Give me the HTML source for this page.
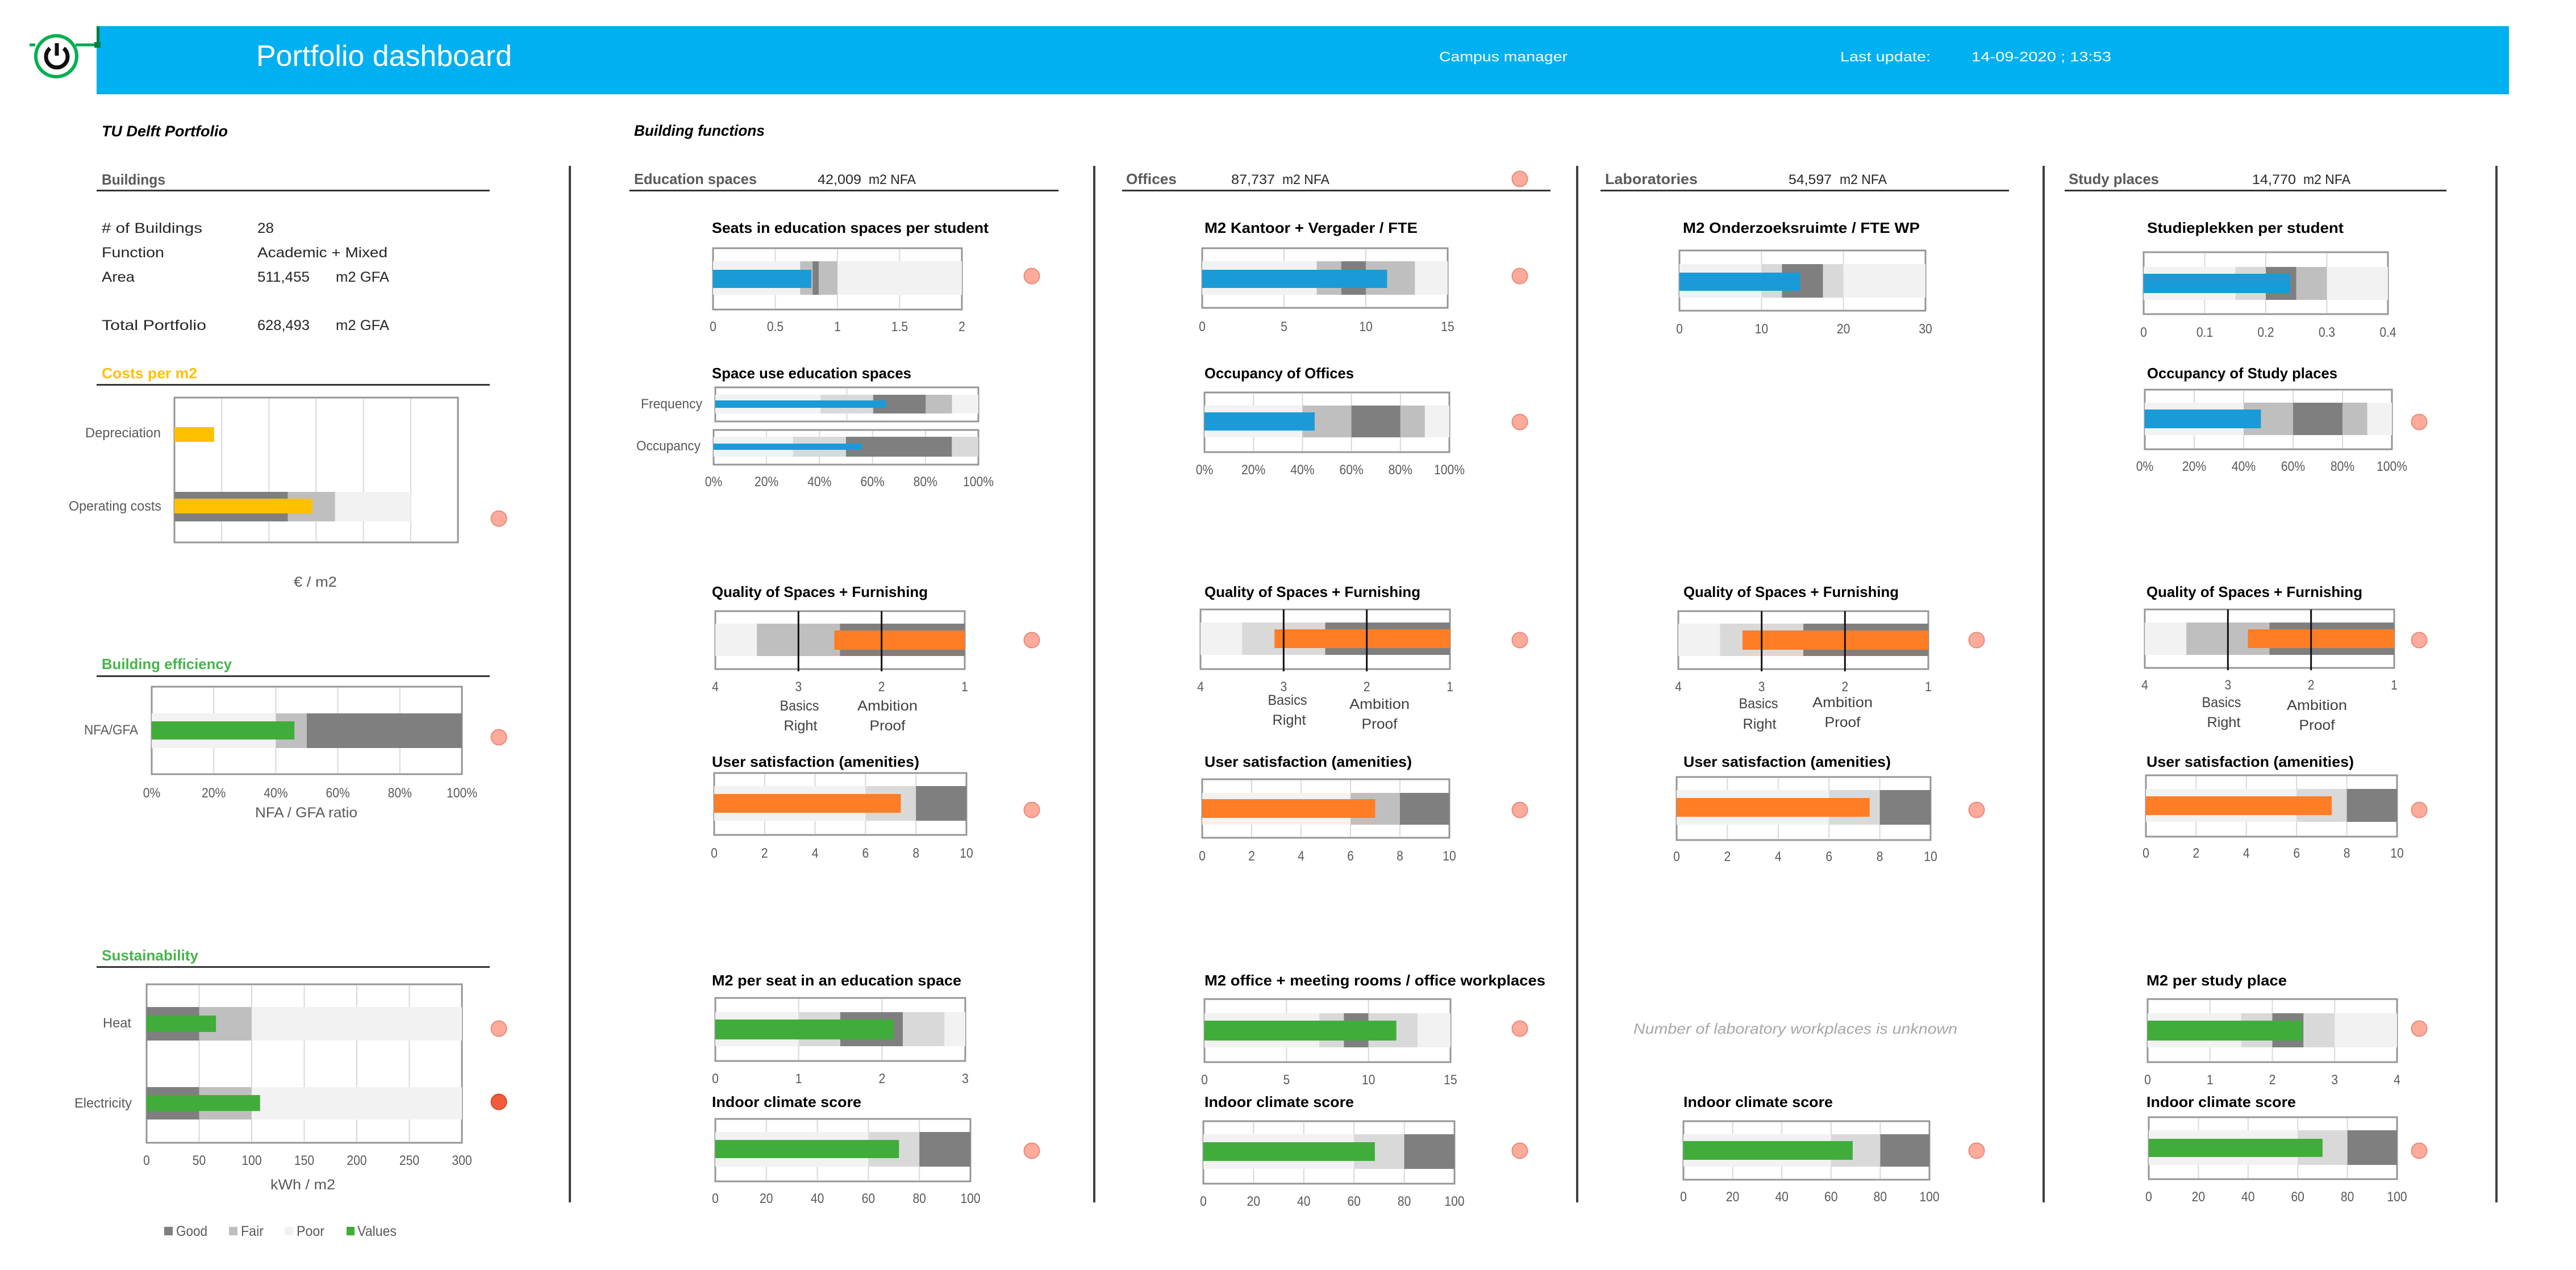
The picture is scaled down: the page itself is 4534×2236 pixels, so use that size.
<!DOCTYPE html>
<html lang="en">
<head>
<meta charset="utf-8">
<title>Portfolio dashboard</title>
<style>
html,body{margin:0;padding:0;background:#fff}
svg{display:block}
text{font-family:"Liberation Sans",sans-serif;fill:#262626}
.hdr{fill:#fff;font-size:24px}
.sec{font-size:26px;font-weight:bold;fill:#595959}
.cols{font-size:26px;font-weight:bold;fill:#595959}
.it{font-size:27px;font-weight:bold;font-style:italic;fill:#000}
.row{font-size:25px;fill:#262626}
.num{font-size:24px;fill:#262626}
.ct{font-size:26px;font-weight:bold;fill:#000}
.axt{font-size:25px;fill:#595959}
.mark{font-size:25px;fill:#404040}
</style>
</head>
<body>
<svg id="dash" xmlns="http://www.w3.org/2000/svg" width="4534" height="2236" viewBox="0 0 4534 2236">
<rect x="0" y="0" width="4534" height="2236" fill="#fff"/>

<!-- header -->
<rect x="170" y="46" width="4246" height="120" fill="#00b0f0"/>
<text class="hdr" x="451" y="116" style="font-size:52px" textLength="450" lengthAdjust="spacingAndGlyphs">Portfolio dashboard</text>
<text class="hdr" x="2533" y="108" textLength="226" lengthAdjust="spacingAndGlyphs">Campus manager</text>
<text class="hdr" x="3239" y="108" textLength="159" lengthAdjust="spacingAndGlyphs">Last update:</text>
<text class="hdr" x="3470" y="108" textLength="246" lengthAdjust="spacingAndGlyphs">14-09-2020 ; 13:53</text>

<!-- power button -->
<g>
  <path d="M52 79H62M133 79H170" stroke="#00a651" stroke-width="5" fill="none"/>
  <path d="M172.500 46V76" stroke="#00803c" stroke-width="5"/>
  <rect x="166" y="74" width="11" height="10" fill="#00803c"/>
  <circle cx="99" cy="99" r="36" fill="#fff" stroke="#00b050" stroke-width="6"/>
  <path d="M88 85A19 19 0 1 0 112 85" fill="none" stroke="#111" stroke-width="7"/>
  <path d="M100 76V98" stroke="#111" stroke-width="7"/>
</g>

<!-- left panel -->
<text class="it" x="179" y="240" textLength="222" lengthAdjust="spacingAndGlyphs">TU Delft Portfolio</text>
<text class="sec" x="179" y="325" textLength="112" lengthAdjust="spacingAndGlyphs">Buildings</text>
<rect x="170" y="334" width="692" height="3" fill="#333"/>
<text class="row" x="179" y="410" textLength="177" lengthAdjust="spacingAndGlyphs"># of Buildings</text>
<text class="row" x="453" y="410" textLength="29" lengthAdjust="spacingAndGlyphs">28</text>
<text class="row" x="179" y="453" textLength="110" lengthAdjust="spacingAndGlyphs">Function</text>
<text class="row" x="453" y="453" textLength="229" lengthAdjust="spacingAndGlyphs">Academic + Mixed</text>
<text class="row" x="179" y="496" textLength="58" lengthAdjust="spacingAndGlyphs">Area</text>
<text class="row" x="453" y="496" textLength="92" lengthAdjust="spacingAndGlyphs">511,455</text>
<text class="row" x="591" y="496" textLength="94" lengthAdjust="spacingAndGlyphs">m2 GFA</text>
<text class="row" x="179" y="581" textLength="184" lengthAdjust="spacingAndGlyphs">Total Portfolio</text>
<text class="row" x="453" y="581" textLength="92" lengthAdjust="spacingAndGlyphs">628,493</text>
<text class="row" x="591" y="581" textLength="94" lengthAdjust="spacingAndGlyphs">m2 GFA</text>

<text class="sec" x="179" y="666" style="fill:#ffc000" textLength="168" lengthAdjust="spacingAndGlyphs">Costs per m2</text>
<rect x="170" y="676" width="692" height="3" fill="#333"/>
<text class="axt" x="555" y="1033" text-anchor="middle" textLength="76" lengthAdjust="spacingAndGlyphs">€ / m2</text>

<text class="sec" x="179" y="1178" style="fill:#45b549" textLength="229" lengthAdjust="spacingAndGlyphs">Building efficiency</text>
<rect x="170" y="1189" width="692" height="3" fill="#333"/>
<text class="axt" x="539" y="1439" text-anchor="middle" textLength="180" lengthAdjust="spacingAndGlyphs">NFA / GFA ratio</text>

<text class="sec" x="179" y="1691" style="fill:#45b549" textLength="170" lengthAdjust="spacingAndGlyphs">Sustainability</text>
<rect x="170" y="1701" width="692" height="3" fill="#333"/>
<text class="axt" x="533" y="2094" text-anchor="middle" textLength="114" lengthAdjust="spacingAndGlyphs">kWh / m2</text>

<!-- legend -->
<g>
  <rect x="289" y="2160" width="15" height="15" fill="#7f7f7f"/>
  <text class="axt" x="310" y="2176" textLength="55" lengthAdjust="spacingAndGlyphs">Good</text>
  <rect x="403" y="2160" width="15" height="15" fill="#bfbfbf"/>
  <text class="axt" x="424" y="2176" textLength="40" lengthAdjust="spacingAndGlyphs">Fair</text>
  <rect x="501" y="2160" width="15" height="15" fill="#f2f2f2"/>
  <text class="axt" x="522" y="2176" textLength="49" lengthAdjust="spacingAndGlyphs">Poor</text>
  <rect x="610" y="2160" width="14" height="15" fill="#40ad3a"/>
  <text class="axt" x="629" y="2176" textLength="69" lengthAdjust="spacingAndGlyphs">Values</text>
</g>

<!-- column dividers -->
<g fill="#404040">
  <rect x="1001" y="292" width="4" height="1825"/>
  <rect x="1924" y="292" width="4" height="1825"/>
  <rect x="2774" y="292" width="4" height="1825"/>
  <rect x="3595" y="292" width="4" height="1825"/>
  <rect x="4392" y="292" width="4" height="1825"/>
</g>

<!-- building functions -->
<text class="it" x="1116" y="239" textLength="230" lengthAdjust="spacingAndGlyphs">Building functions</text>

<text class="cols" x="1116" y="324" textLength="216" lengthAdjust="spacingAndGlyphs">Education spaces</text>
<text class="num" x="1439" y="324" textLength="77" lengthAdjust="spacingAndGlyphs">42,009</text>
<text class="num" x="1529" y="324" textLength="83" lengthAdjust="spacingAndGlyphs">m2 NFA</text>
<rect x="1108" y="334" width="755" height="3" fill="#333"/>

<text class="cols" x="1982" y="324" textLength="89" lengthAdjust="spacingAndGlyphs">Offices</text>
<text class="num" x="2167" y="324" textLength="77" lengthAdjust="spacingAndGlyphs">87,737</text>
<text class="num" x="2257" y="324" textLength="83" lengthAdjust="spacingAndGlyphs">m2 NFA</text>
<rect x="1975" y="334" width="754" height="3" fill="#333"/>

<text class="cols" x="2825" y="324" textLength="163" lengthAdjust="spacingAndGlyphs">Laboratories</text>
<text class="num" x="3148" y="324" textLength="76" lengthAdjust="spacingAndGlyphs">54,597</text>
<text class="num" x="3238" y="324" textLength="83" lengthAdjust="spacingAndGlyphs">m2 NFA</text>
<rect x="2817" y="334" width="719" height="3" fill="#333"/>

<text class="cols" x="3641" y="324" textLength="159" lengthAdjust="spacingAndGlyphs">Study places</text>
<text class="num" x="3964" y="324" textLength="77" lengthAdjust="spacingAndGlyphs">14,770</text>
<text class="num" x="4054" y="324" textLength="83" lengthAdjust="spacingAndGlyphs">m2 NFA</text>
<rect x="3634" y="334" width="672" height="3" fill="#333"/>

<!-- chart titles -->
<text class="ct" x="1253" y="410" textLength="487" lengthAdjust="spacingAndGlyphs">Seats in education spaces per student</text>
<text class="ct" x="1253" y="666" textLength="351" lengthAdjust="spacingAndGlyphs">Space use education spaces</text>
<text class="ct" x="1253" y="1051" textLength="380" lengthAdjust="spacingAndGlyphs">Quality of Spaces + Furnishing</text>
<text class="ct" x="1253" y="1350" textLength="365" lengthAdjust="spacingAndGlyphs">User satisfaction (amenities)</text>
<text class="ct" x="1253" y="1735" textLength="439" lengthAdjust="spacingAndGlyphs">M2 per seat in an education space</text>
<text class="ct" x="1253" y="1949" textLength="263" lengthAdjust="spacingAndGlyphs">Indoor climate score</text>

<text class="ct" x="2120" y="410" textLength="375" lengthAdjust="spacingAndGlyphs">M2 Kantoor + Vergader / FTE</text>
<text class="ct" x="2120" y="666" textLength="263" lengthAdjust="spacingAndGlyphs">Occupancy of Offices</text>
<text class="ct" x="2120" y="1051" textLength="380" lengthAdjust="spacingAndGlyphs">Quality of Spaces + Furnishing</text>
<text class="ct" x="2120" y="1350" textLength="365" lengthAdjust="spacingAndGlyphs">User satisfaction (amenities)</text>
<text class="ct" x="2120" y="1735" textLength="600" lengthAdjust="spacingAndGlyphs">M2 office + meeting rooms / office workplaces</text>
<text class="ct" x="2120" y="1949" textLength="263" lengthAdjust="spacingAndGlyphs">Indoor climate score</text>

<text class="ct" x="2962" y="410" textLength="417" lengthAdjust="spacingAndGlyphs">M2 Onderzoeksruimte / FTE WP</text>
<text class="ct" x="2963" y="1051" textLength="379" lengthAdjust="spacingAndGlyphs">Quality of Spaces + Furnishing</text>
<text class="ct" x="2963" y="1350" textLength="365" lengthAdjust="spacingAndGlyphs">User satisfaction (amenities)</text>
<text x="2875" y="1820" style="font-size:26px;font-style:italic;fill:#a6a6a6" textLength="570" lengthAdjust="spacingAndGlyphs">Number of laboratory workplaces is unknown</text>
<text class="ct" x="2963" y="1949" textLength="263" lengthAdjust="spacingAndGlyphs">Indoor climate score</text>

<text class="ct" x="3779" y="410" textLength="346" lengthAdjust="spacingAndGlyphs">Studieplekken per student</text>
<text class="ct" x="3779" y="666" textLength="335" lengthAdjust="spacingAndGlyphs">Occupancy of Study places</text>
<text class="ct" x="3778" y="1051" textLength="380" lengthAdjust="spacingAndGlyphs">Quality of Spaces + Furnishing</text>
<text class="ct" x="3778" y="1350" textLength="365" lengthAdjust="spacingAndGlyphs">User satisfaction (amenities)</text>
<text class="ct" x="3778" y="1735" textLength="247" lengthAdjust="spacingAndGlyphs">M2 per study place</text>
<text class="ct" x="3778" y="1949" textLength="263" lengthAdjust="spacingAndGlyphs">Indoor climate score</text>

<!-- quality scale annotations -->
<g>
  <text class="mark" x="1407" y="1251" text-anchor="middle" textLength="69" lengthAdjust="spacingAndGlyphs">Basics</text>
  <text class="mark" x="1409" y="1286" text-anchor="middle" textLength="59" lengthAdjust="spacingAndGlyphs">Right</text>
  <text class="mark" x="1562" y="1251" text-anchor="middle" textLength="106" lengthAdjust="spacingAndGlyphs">Ambition</text>
  <text class="mark" x="1562" y="1286" text-anchor="middle" textLength="63" lengthAdjust="spacingAndGlyphs">Proof</text>
  <text class="mark" x="2266" y="1241" text-anchor="middle" textLength="69" lengthAdjust="spacingAndGlyphs">Basics</text>
  <text class="mark" x="2269" y="1276" text-anchor="middle" textLength="59" lengthAdjust="spacingAndGlyphs">Right</text>
  <text class="mark" x="2428" y="1248" text-anchor="middle" textLength="106" lengthAdjust="spacingAndGlyphs">Ambition</text>
  <text class="mark" x="2428" y="1283" text-anchor="middle" textLength="63" lengthAdjust="spacingAndGlyphs">Proof</text>
  <text class="mark" x="3095" y="1247" text-anchor="middle" textLength="69" lengthAdjust="spacingAndGlyphs">Basics</text>
  <text class="mark" x="3097" y="1283" text-anchor="middle" textLength="59" lengthAdjust="spacingAndGlyphs">Right</text>
  <text class="mark" x="3243" y="1245" text-anchor="middle" textLength="106" lengthAdjust="spacingAndGlyphs">Ambition</text>
  <text class="mark" x="3243" y="1280" text-anchor="middle" textLength="63" lengthAdjust="spacingAndGlyphs">Proof</text>
  <text class="mark" x="3910" y="1245" text-anchor="middle" textLength="69" lengthAdjust="spacingAndGlyphs">Basics</text>
  <text class="mark" x="3914" y="1280" text-anchor="middle" textLength="59" lengthAdjust="spacingAndGlyphs">Right</text>
  <text class="mark" x="4078" y="1250" text-anchor="middle" textLength="106" lengthAdjust="spacingAndGlyphs">Ambition</text>
  <text class="mark" x="4078" y="1285" text-anchor="middle" textLength="63" lengthAdjust="spacingAndGlyphs">Proof</text>
</g>

<g id="charts"></g>
</svg>

<script>
// ---- chart data ----
const rowIds = [
  'depreciation','operating-costs','nfa-gfa','heat','electricity',
  'seats-per-student','frequency','occupancy','education-quality','education-satisfaction','seat-area','education-climate',
  'office-area','office-occupancy','office-quality','office-satisfaction','office-workplace-area','office-climate',
  'lab-area','lab-quality','lab-satisfaction','lab-climate',
  'study-per-student','study-occupancy','study-quality','study-satisfaction','study-place-area','study-climate'
];
const rowLabels = {
  'depreciation':'Depreciation','operating-costs':'Operating costs','nfa-gfa':'NFA/GFA',
  'heat':'Heat','electricity':'Electricity','frequency':'Frequency','occupancy':'Occupancy'
};
const rowValues = [
  42,146,46,66,108,
  0.79,65,56,2.57,7.4,2.14,72,
  11.3,45,3.11,7.0,11.7,68.3,
  14.7,3.23,7.6,68.8,
  0.24,47,2.76,7.4,2.48,70
];
const rowBandEdges = [
  [],[120,170,250],[40,50,100],[50,100,300],[50,100,300],
  [0.7,0.8,0.85,1,2],[40,60,80,90,100],[30,50,90,100],[3.5,2.5,1],[6,8,10],[1,1.5,2.25,2.75,3],[60,80,100],
  [7,8.5,10,13,15],[40,60,80,90,100],[3.5,2.5,1],[6,8,10],[7,8.5,10,13,15],[60,80,100],
  [10,12.5,17.5,20,30],[3.5,2.5,1],[6,8,10],[60,80,100],
  [0.15,0.2,0.25,0.3,0.4],[40,60,80,90,100],[3.5,2.5,1],[6,8,10],[1.5,2,2.5,3,4],[60,80,100]
];
const rowBandGrades = [
  [],['good','fair','poor'],['poor','fair','good'],['good','fair','poor'],['good','fair','poor'],
  ['poor','fair','good','fair','poor'],['poor','light','good','fair','poor'],['poor','light','good','light'],['poor','fair','good'],['poor','light','good'],['poor','light','good','light','poor'],['poor','light','good'],
  ['poor','fair','good','fair','poor'],['poor','fair','good','fair','poor'],['poor','light','good'],['poor','fair','good'],['poor','light','good','light','poor'],['poor','light','good'],
  ['poor','light','good','light','poor'],['poor','light','good'],['poor','light','good'],['poor','light','good'],
  ['poor','light','good','fair','poor'],['poor','fair','good','fair','poor'],['poor','fair','good'],['poor','light','good'],['poor','light','good','light','poor'],['poor','light','good']
];
const ticksCosts = [0,50,100,150,200,250,300];
const ticksEnergy = [0,50,100,150,200,250,300];
const ticksPercent = [0,20,40,60,80,100];
const ticksFrequency = [0,50,100];
const ticksSeats = [0,0.5,1,1.5,2];
const ticksQuality = [4,3,2,1];
const ticksScore = [0,2,4,6,8,10];
const ticksSeatArea = [0,1,2,3];
const ticksClimate = [0,20,40,60,80,100];
const ticksOffice = [0,5,10,15];
const ticksLab = [0,10,20,30];
const ticksStudy = [0,0.1,0.2,0.3,0.4];
const ticksStudyArea = [0,1,2,3,4];
const statusDots = ['amber','red'];

// ---- drawing ----
const SVGNS = 'http://www.w3.org/2000/svg';
const gradeFill = {good:'#7f7f7f',fair:'#bfbfbf',light:'#d9d9d9',poor:'#f2f2f2'};
const statusFill = {amber:'#ffab9b',red:'#f25c3b'};
const statusStroke = {amber:'#e58c7c',red:'#d8482c'};
const BLUE='#1a9bd7', ORANGE='#ff7d24', GREEN='#40ad3a', GOLD='#ffc000';
const root = document.getElementById('charts');

function mk(tag, parent, name) {
  const el = document.createElementNS(SVGNS, tag);
  
  
  parent.appendChild(el);
  return el;
}
function box(parent, name, x0, y0, x1, y1, fill) {
  const r = mk('rect', parent, name);
  r.setAttribute('x', Math.min(x0, x1));
  r.setAttribute('y', y0);
  r.setAttribute('width', Math.abs(x1 - x0));
  r.setAttribute('height', y1 - y0);
  r.setAttribute('fill', fill);
  return r;
}
function vline(parent, name, x, y0, y1, stroke, w) {
  const l = mk('line', parent, name);
  l.setAttribute('x1', x); l.setAttribute('x2', x);
  l.setAttribute('y1', y0); l.setAttribute('y2', y1);
  l.setAttribute('stroke', stroke); l.setAttribute('stroke-width', w);
}
function label(parent, name, str, x, y, anchor, size, width) {
  const t = mk('text', parent, name);
  t.textContent = str;
  t.setAttribute('x', x); t.setAttribute('y', y);
  t.setAttribute('text-anchor', anchor);
  t.setAttribute('font-size', size);
  t.style.fill = '#595959';
  const len = width || t.getComputedTextLength() * 0.88;
  t.setAttribute('textLength', len);
  t.setAttribute('lengthAdjust', 'spacingAndGlyphs');
}
function linearAxis(ticks, x0, x1) {
  const first = ticks[0], last = ticks[ticks.length - 1];
  return v => x0 + (v - first) / (last - first) * (x1 - x0);
}
function dot(name, cx, cy, status) {
  const c = mk('circle', root, name);
  c.setAttribute('cx', cx); c.setAttribute('cy', cy); c.setAttribute('r', 13.5);
  c.setAttribute('fill', statusFill[status]);
  c.setAttribute('stroke', statusStroke[status]);
  c.setAttribute('stroke-width', 2);
}
function drawRow(g, id, x, ticks, band, bar, colour) {
  const i = rowIds.indexOf(id);
  const edges = rowBandEdges[i], grades = rowBandGrades[i];
  let from = ticks[0];
  edges.forEach((edge, k) => {
    box(g, id + '-band-' + grades[k], x(from), band[0], x(edge), band[1], gradeFill[grades[k]]);
    from = edge;
  });
  const reversed = ticks[0] > ticks[ticks.length - 1];
  const start = reversed ? ticks[ticks.length - 1] : ticks[0];
  box(g, id + '-value-bar', x(start), bar[0], x(rowValues[i]), bar[1], colour);
}
function drawChart(o) {
  const g = mk('g', root, o.name + '-chart');
  const [x0, x1, y0, y1] = o.frame;
  const x = linearAxis(o.ticks, x0, x1);
  const bg = box(g, o.name + '-plot-frame', x0, y0, x1, y1, '#fff');
  bg.setAttribute('stroke', '#969696');
  bg.setAttribute('stroke-width', 3);
  if (!o.targets) {
    o.ticks.slice(1, -1).forEach(v => vline(g, o.name + '-gridline', x(v), y0 + 2, y1 - 2, '#d9d9d9', 2));
  }
  o.rows.forEach(r => {
    drawRow(g, r.id, x, o.ticks, r.band, r.bar, o.colour);
    if (r.label) {
      label(g, r.id + '-category-label', rowLabels[r.id], r.label[0], r.label[1], 'end', 24, r.label[2]);
    }
  });
  if (o.targets) {
    o.ticks.slice(1, -1).forEach(v => vline(g, o.name + '-target-line', x(v), y0, y1 + 4, '#111', 3));
  }
  if (o.tickY) {
    o.ticks.forEach(v => label(g, o.name + '-tick-label', v + (o.suffix || ''), x(v), o.tickY, 'middle', 24));
  }
}

// left panel
drawChart({name:'costs',frame:[307,806,700,955],ticks:ticksCosts,colour:GOLD,rows:[
  {id:'depreciation',band:[866,918],bar:[752,778],label:[283,770,133]},
  {id:'operating-costs',band:[866,918],bar:[878,904],label:[284,899,163]}]});
drawChart({name:'building-efficiency',frame:[267,813,1209,1363],ticks:ticksPercent,suffix:'%',tickY:1404,colour:GREEN,rows:[
  {id:'nfa-gfa',band:[1256,1317],bar:[1270,1302],label:[243,1293,95]}]});
drawChart({name:'sustainability',frame:[258,813,1733,2012],ticks:ticksEnergy,tickY:2051,colour:GREEN,rows:[
  {id:'heat',band:[1773,1832],bar:[1788,1817],label:[231,1809,50]},
  {id:'electricity',band:[1914,1971],bar:[1928,1956],label:[232,1950,101]}]});

// education
drawChart({name:'seats',frame:[1255,1693,437,545],ticks:ticksSeats,tickY:583,colour:BLUE,rows:[{id:'seats-per-student',band:[460,519],bar:[475,507]}]});
drawChart({name:'frequency',frame:[1259,1722,682,742],ticks:ticksFrequency,colour:BLUE,rows:[{id:'frequency',band:[695,728],bar:[705,718],label:[1236,719,108]}]});
drawChart({name:'occupancy',frame:[1256,1722,757,818],ticks:ticksPercent,suffix:'%',tickY:856,colour:BLUE,rows:[{id:'occupancy',band:[769,804],bar:[781,792],label:[1233,793,113]}]});
drawChart({name:'education-quality',frame:[1259,1698,1076,1178],ticks:ticksQuality,targets:true,tickY:1217,colour:ORANGE,rows:[{id:'education-quality',band:[1098,1155],bar:[1110,1144]}]});
drawChart({name:'education-satisfaction',frame:[1257,1701,1361,1470],ticks:ticksScore,tickY:1510,colour:ORANGE,rows:[{id:'education-satisfaction',band:[1384,1445],bar:[1398,1431]}]});
drawChart({name:'seat-area',frame:[1259,1699,1757,1868],ticks:ticksSeatArea,tickY:1907,colour:GREEN,rows:[{id:'seat-area',band:[1782,1842],bar:[1795,1830]}]});
drawChart({name:'education-climate',frame:[1259,1708,1970,2080],ticks:ticksClimate,tickY:2118,colour:GREEN,rows:[{id:'education-climate',band:[1993,2054],bar:[2007,2039]}]});

// offices
drawChart({name:'office-area',frame:[2116,2548,437,542],ticks:ticksOffice,tickY:583,colour:BLUE,rows:[{id:'office-area',band:[460,519],bar:[475,507]}]});
drawChart({name:'office-occupancy',frame:[2120,2551,691,796],ticks:ticksPercent,suffix:'%',tickY:835,colour:BLUE,rows:[{id:'office-occupancy',band:[714,770],bar:[726,758]}]});
drawChart({name:'office-quality',frame:[2113,2552,1073,1178],ticks:ticksQuality,targets:true,tickY:1217,colour:ORANGE,rows:[{id:'office-quality',band:[1096,1153],bar:[1108,1141]}]});
drawChart({name:'office-satisfaction',frame:[2116,2551,1372,1475],ticks:ticksScore,tickY:1515,colour:ORANGE,rows:[{id:'office-satisfaction',band:[1396,1452],bar:[1407,1440]}]});
drawChart({name:'office-workplace',frame:[2120,2553,1759,1870],ticks:ticksOffice,tickY:1909,colour:GREEN,rows:[{id:'office-workplace-area',band:[1784,1844],bar:[1797,1832]}]});
drawChart({name:'office-climate',frame:[2118,2560,1974,2084],ticks:ticksClimate,tickY:2123,colour:GREEN,rows:[{id:'office-climate',band:[1997,2058],bar:[2011,2044]}]});

// laboratories
drawChart({name:'lab-area',frame:[2956,3389,441,547],ticks:ticksLab,tickY:587,colour:BLUE,rows:[{id:'lab-area',band:[465,524],bar:[480,512]}]});
drawChart({name:'lab-quality',frame:[2954,3394,1076,1178],ticks:ticksQuality,targets:true,tickY:1217,colour:ORANGE,rows:[{id:'lab-quality',band:[1098,1155],bar:[1110,1144]}]});
drawChart({name:'lab-satisfaction',frame:[2951,3398,1368,1479],ticks:ticksScore,tickY:1516,colour:ORANGE,rows:[{id:'lab-satisfaction',band:[1391,1452],bar:[1405,1438]}]});
drawChart({name:'lab-climate',frame:[2963,3396,1974,2077],ticks:ticksClimate,tickY:2115,colour:GREEN,rows:[{id:'lab-climate',band:[1997,2054],bar:[2009,2042]}]});

// study places
drawChart({name:'study-per-student',frame:[3773,4203,444,553],ticks:ticksStudy,tickY:593,colour:BLUE,rows:[{id:'study-per-student',band:[470,528],bar:[482,516]}]});
drawChart({name:'study-occupancy',frame:[3775,4210,686,791],ticks:ticksPercent,suffix:'%',tickY:829,colour:BLUE,rows:[{id:'study-occupancy',band:[709,766],bar:[721,754]}]});
drawChart({name:'study-quality',frame:[3775,4214,1073,1176],ticks:ticksQuality,targets:true,tickY:1214,colour:ORANGE,rows:[{id:'study-quality',band:[1096,1153],bar:[1108,1141]}]});
drawChart({name:'study-satisfaction',frame:[3777,4219,1365,1473],ticks:ticksScore,tickY:1510,colour:ORANGE,rows:[{id:'study-satisfaction',band:[1389,1447],bar:[1402,1435]}]});
drawChart({name:'study-place-area',frame:[3780,4219,1759,1870],ticks:ticksStudyArea,tickY:1909,colour:GREEN,rows:[{id:'study-place-area',band:[1784,1844],bar:[1797,1832]}]});
drawChart({name:'study-climate',frame:[3782,4219,1967,2076],ticks:ticksClimate,tickY:2115,colour:GREEN,rows:[{id:'study-climate',band:[1990,2051],bar:[2005,2037]}]});

// status indicators
dot('status-costs',878,913,statusDots[0]);
dot('status-efficiency',878,1298,statusDots[0]);
dot('status-heat',878,1811,statusDots[0]);
dot('status-electricity',878,1940,statusDots[1]);
dot('status-seats',1816,486,statusDots[0]);
dot('status-education-quality',1816,1127,statusDots[0]);
dot('status-education-satisfaction',1816,1426,statusDots[0]);
dot('status-education-climate',1816,2026,statusDots[0]);
dot('status-offices',2675,315,statusDots[0]);
dot('status-office-area',2675,486,statusDots[0]);
dot('status-office-occupancy',2675,743,statusDots[0]);
dot('status-office-quality',2675,1127,statusDots[0]);
dot('status-office-satisfaction',2675,1426,statusDots[0]);
dot('status-office-workplace',2675,1811,statusDots[0]);
dot('status-office-climate',2675,2026,statusDots[0]);
dot('status-lab-quality',3479,1127,statusDots[0]);
dot('status-lab-satisfaction',3479,1426,statusDots[0]);
dot('status-lab-climate',3479,2026,statusDots[0]);
dot('status-study-occupancy',4258,743,statusDots[0]);
dot('status-study-quality',4258,1127,statusDots[0]);
dot('status-study-satisfaction',4258,1426,statusDots[0]);
dot('status-study-place-area',4258,1811,statusDots[0]);
dot('status-study-climate',4258,2026,statusDots[0]);
</script>
</body>
</html>
